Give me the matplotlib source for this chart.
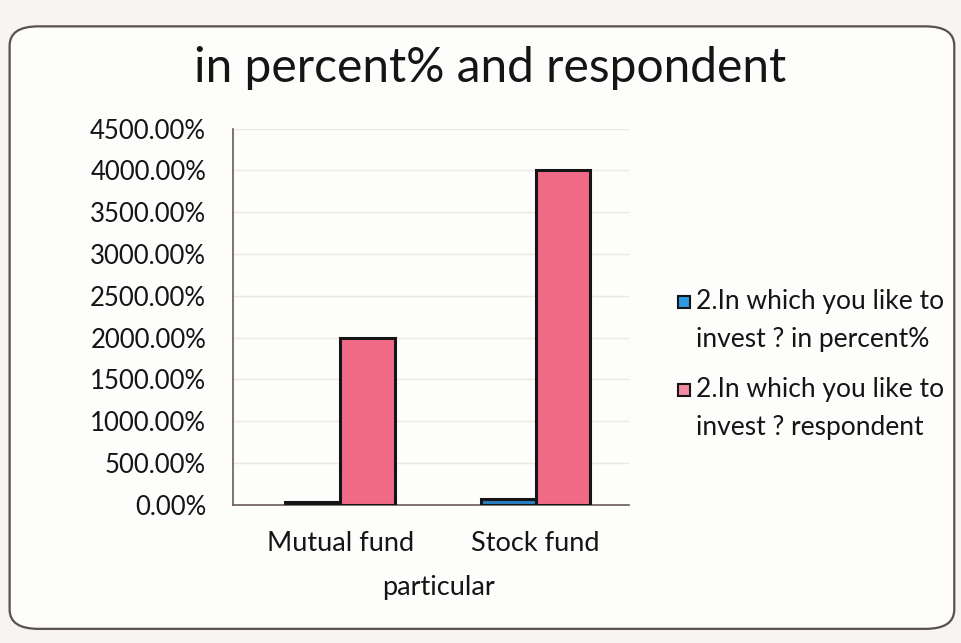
import matplotlib
matplotlib.use("Agg")
import matplotlib.pyplot as plt
import numpy as np
from matplotlib.patches import FancyBboxPatch, Rectangle
from matplotlib.ticker import FuncFormatter

# Survey data: share and respondent count for each fund type
categories = ["Mutual fund", "Stock fund"]
pct_values = [0.33, 0.67]          # stored as fractions (1 = 100%)
respondent_values = [20, 40]       # counts, drawn on the same percent axis
series_labels = [["2.In which you like to", "invest ? in percent%"],
                 ["2.In which you like to", "invest ? respondent"]]
y_ticks = [0, 5, 10, 15, 20, 25, 30, 35, 40, 45]

plt.rcParams["font.family"] = ["Lato", "DejaVu Sans"]
TXT = "#161414"
BAR_COLORS = ["#2a7fc0", "#f06a88"]
KEY_COLORS = ["#2e9be0", "#f48aa3"]

fig = plt.figure(figsize=(9.61, 6.43), dpi=100)
fig.patch.set_facecolor("#f7f5f2")

# rounded chart frame
frame = FancyBboxPatch((0.010, 0.022), 0.983, 0.937,
                       boxstyle="round,pad=0,rounding_size=0.03",
                       transform=fig.transFigure, facecolor="#fdfdfc",
                       edgecolor="#5a5050", linewidth=1.6, zorder=-1)
fig.patches.append(frame)

ax = fig.add_axes([0.242, 0.215, 0.413, 0.585])
ax.set_facecolor("none")
ax.set_zorder(2)

x = np.arange(len(categories))
w = 0.28
ax.bar(x - w / 2, pct_values, width=w, color=BAR_COLORS[0],
       edgecolor="#151515", linewidth=2.2, zorder=3)
ax.bar(x + w / 2, respondent_values, width=w, color=BAR_COLORS[1],
       edgecolor="#151515", linewidth=2.2, zorder=3)

ax.set_ylim(0, 45)
ax.set_xlim(-0.55, 1.48)
ax.set_yticks(y_ticks)
ax.yaxis.set_major_formatter(FuncFormatter(lambda v, p: f"{v * 100:.2f}%"))
ax.set_xticks(x)
ax.set_xticklabels(categories)
ax.tick_params(axis="both", length=0, colors=TXT)
ax.tick_params(axis="y", pad=19, labelsize=18.5)
ax.tick_params(axis="x", pad=19, labelsize=19.5)
ax.yaxis.grid(True, color="#ece6e4", linewidth=1)
ax.set_axisbelow(True)
for s in ["top", "right"]:
    ax.spines[s].set_visible(False)
for s in ["left", "bottom"]:
    ax.spines[s].set_color("#6a5a5a")
    ax.spines[s].set_linewidth(1.2)

ax.set_xlabel("particular", fontsize=19.5, color=TXT)
ax.xaxis.set_label_coords(0.52, -0.187)

fig.text(0.51, 0.895, "in percent% and respondent", ha="center", va="center",
         fontsize=34.5, color=TXT)

# legend: key box aligned with the first line of each two-line label
W, H = fig.bbox.width, fig.bbox.height
key_x, text_x = 678, 696
entry_tops = [302, 390]
line_gap = 38
key = 12
for lines, top, kc in zip(series_labels, entry_tops, KEY_COLORS):
    fig.patches.append(Rectangle(((key_x) / W, 1 - (top + key / 2) / H), key / W, key / H,
                                 transform=fig.transFigure, facecolor=kc,
                                 edgecolor="#151515", linewidth=1.5, zorder=3))
    for i, line in enumerate(lines):
        fig.text(text_x / W, 1 - (top + i * line_gap) / H, line, ha="left",
                 va="center", fontsize=19, color=TXT)

fig.savefig("out.png", dpi=100, facecolor=fig.get_facecolor())
